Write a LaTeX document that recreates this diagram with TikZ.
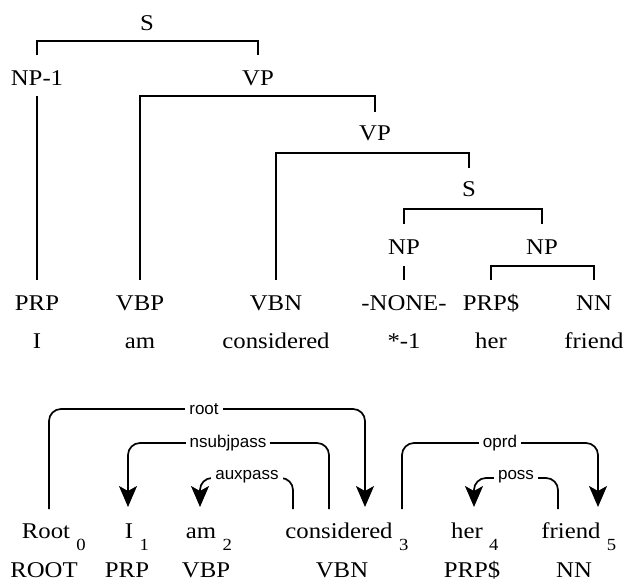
\documentclass[tikz,border=0pt]{standalone}
\usepackage{fontspec}
\setmainfont{Liberation Serif}[FakeStretch=1.1]
\newfontfamily\arcfont{Liberation Sans}
\usetikzlibrary{arrows.meta}

\tikzset{
  tag/.style={anchor=base, inner sep=0pt, font=\fontsize{22.5}{26}\selectfont},
  word/.style={tag},
  sub/.style={anchor=base west, inner sep=0pt, font=\fontsize{17}{20}\selectfont},
  branch/.style={line width=1.3pt},
  dep/.style={line width=1.7pt, rounded corners=12pt},
  deparrow/.style={dep, -{Stealth[length=21pt, width=18pt, inset=5pt]}},
  deplabel/.style={fill=white, inner xsep=4pt, inner ysep=2pt, font=\arcfont\fontsize{17}{20}\selectfont}
}

\begin{document}
\begin{tikzpicture}[x=1pt, y=-1pt]
  \useasboundingbox (0,0) rectangle (626,581);

  % ---------- constituency tree ----------
  \node[tag] (s)    at (147,30)  {S};
  \node[tag] (np1)  at (37,85)   {NP-1};
  \node[tag] (vp)   at (258,85)  {VP};
  \node[tag] (vp2)  at (375,140) {VP};
  \node[tag] (s2)   at (469,196) {S};
  \node[tag] (npa)  at (404,254) {NP};
  \node[tag] (npb)  at (542,254) {NP};

  \node[tag] (prp)  at (37,310)  {PRP};
  \node[tag] (vbp)  at (140,310) {VBP};
  \node[tag] (vbn)  at (276,310) {VBN};
  \node[tag] (none) at (404,310) {-NONE-};
  \node[tag] (prps) at (491,310) {PRP\$};
  \node[tag] (nn)   at (594,310) {NN};

  \node[word] (wi)      at (37,348)  {I};
  \node[word] (wam)     at (140,348) {am};
  \node[word] (wcons)   at (276,348) {considered};
  \node[word] (wtrace)  at (404,348) {*-1};
  \node[word] (wher)    at (491,348) {her};
  \node[word] (wfriend) at (594,348) {friend};

  % brackets joining each phrase to its children
  \draw[branch] (np1.north |- 0,55) |- (vp.north |- 0,41) -- (vp.north |- 0,55);
  \draw[branch] (np1.north |- 0,96) -- (prp.north |- 0,280);
  \draw[branch] (vbp.north |- 0,280) |- (vp2.north |- 0,96) -- (vp2.north |- 0,112);
  \draw[branch] (vbn.north |- 0,280) |- (s2.north |- 0,153) -- (s2.north |- 0,168);
  \draw[branch] (npa.north |- 0,224) |- (npb.north |- 0,209) -- (npb.north |- 0,224);
  \draw[branch] (npa.north |- 0,266) -- (none.north |- 0,280);
  \draw[branch] (prps.north |- 0,280) |- (nn.north |- 0,266) -- (nn.north |- 0,280);

  % ---------- dependency graph ----------
  \node[word] (d0) at (46,538)  {Root};
  \node[word] (d1) at (129,538) {I};
  \node[word] (d2) at (201,538) {am};
  \node[word] (d3) at (339,538) {considered};
  \node[word] (d4) at (467,538) {her};
  \node[word] (d5) at (571,538) {friend};

  \foreach \w/\i in {d0/0, d1/1, d2/2, d3/3, d4/4, d5/5}
    \node[sub] (i\i) at ([xshift=6pt, yshift=-12pt]\w.base east) {\i};

  \node[tag] (t0) at (44,577)  {ROOT};
  \node[tag] (t1) at (127,577) {PRP};
  \node[tag] (t2) at (206,577) {VBP};
  \node[tag] (t3) at (342,577) {VBN};
  \node[tag] (t4) at (472,577) {PRP\$};
  \node[tag] (t5) at (574,577) {NN};

  % arc ends sit just above the words
  \coordinate (r0) at (49,509);
  \coordinate (r3) at (365,507);
  \coordinate (n3) at (329,509);
  \coordinate (n1) at (128,507);
  \coordinate (a3) at (293,509);
  \coordinate (a2) at (200,507);
  \coordinate (o3) at (402,509);
  \coordinate (o5) at (598,507);
  \coordinate (p5) at (558,509);
  \coordinate (p4) at (474,507);

  \draw[deparrow] (r0) -- (r0 |- 0,409) -- (r3 |- 0,409) -- (r3);
  \node[deplabel] (lroot) at (204,409) {root};

  \draw[deparrow] (n3) -- (n3 |- 0,443) -- (n1 |- 0,443) -- (n1);
  \node[deplabel] (lnsubj) at (228,443) {nsubjpass};

  \draw[deparrow] (o3) -- (o3 |- 0,443) -- (o5 |- 0,443) -- (o5);
  \node[deplabel] (loprd) at (500,443) {oprd};

  \draw[deparrow] (a3) -- (a3 |- 0,478) -- (a2 |- 0,478) -- (a2);
  \node[deplabel] (laux) at (247,477) {auxpass};

  \draw[deparrow] (p5) -- (p5 |- 0,478) -- (p4 |- 0,478) -- (p4);
  \node[deplabel] (lposs) at (516,477) {poss};
\end{tikzpicture}
\end{document}
